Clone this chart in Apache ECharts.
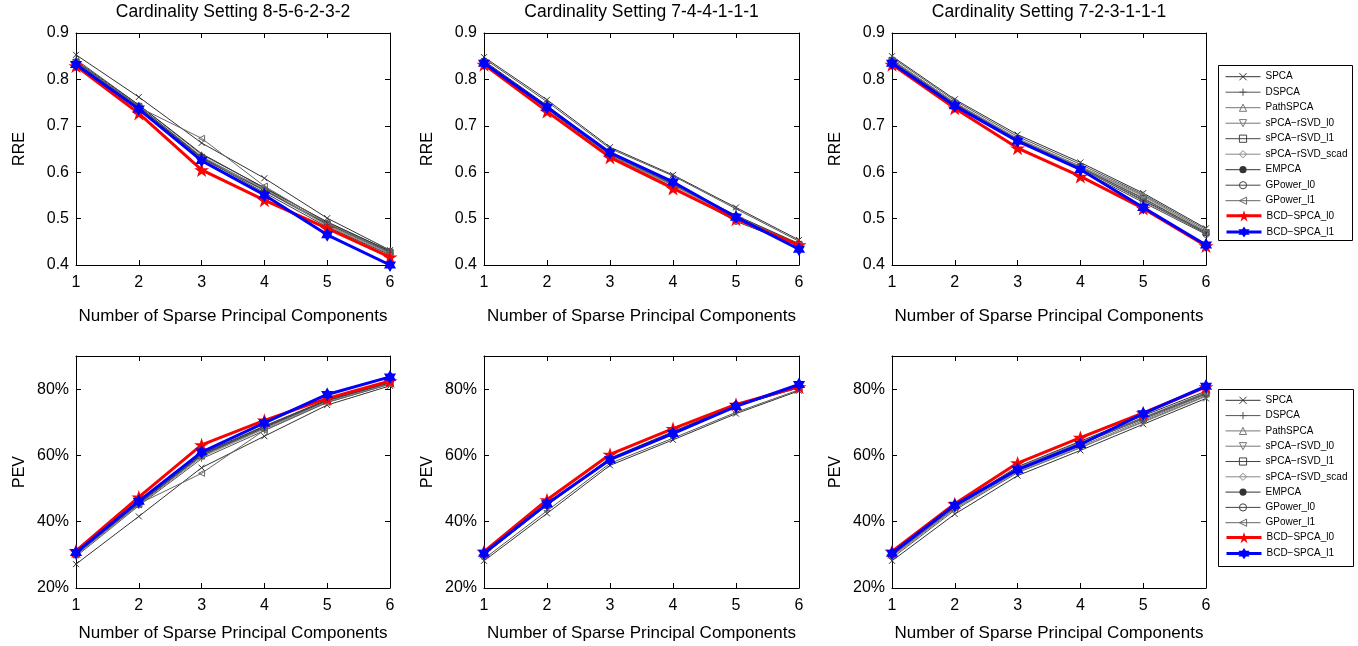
<!DOCTYPE html>
<html>
<head>
<meta charset="utf-8">
<script src="https://cdn.jsdelivr.net/npm/echarts@6/dist/echarts.min.js"></script>
<style>
html, body { margin: 0; padding: 0; background: #fff; }
#main { width: 1358px; height: 646px; }
</style>
</head>
<body>
<div id="main"></div>
<script>
// x positions (number of sparse PCs)
var xs = [1, 2, 3, 4, 5, 6];
var methods = ['SPCA', 'DSPCA', 'PathSPCA', 'sPCA\u2212rSVD_l0', 'sPCA\u2212rSVD_l1', 'sPCA\u2212rSVD_scad',
  'EMPCA', 'GPower_l0', 'GPower_l1', 'BCD\u2212SPCA_l0', 'BCD\u2212SPCA_l1'];
var titles = ['Cardinality Setting 8-5-6-2-3-2', 'Cardinality Setting 7-4-4-1-1-1', 'Cardinality Setting 7-2-3-1-1-1'];

// RRE, one row per method (same order as methods)
var rre1 = [
  [0.853, 0.762, 0.663, 0.587, 0.501, 0.432],
  [0.843, 0.745, 0.638, 0.567, 0.492, 0.430],
  [0.838, 0.742, 0.634, 0.563, 0.489, 0.431],
  [0.836, 0.740, 0.630, 0.560, 0.486, 0.426],
  [0.837, 0.742, 0.632, 0.561, 0.488, 0.428],
  [0.835, 0.739, 0.628, 0.566, 0.484, 0.424],
  [0.840, 0.745, 0.640, 0.566, 0.493, 0.430],
  [0.834, 0.739, 0.631, 0.556, 0.482, 0.422],
  [0.839, 0.740, 0.673, 0.570, 0.490, 0.426],
  [0.829, 0.727, 0.605, 0.540, 0.479, 0.417],
  [0.832, 0.736, 0.625, 0.551, 0.465, 0.400]
];
var rre2 = [
  [0.848, 0.756, 0.654, 0.594, 0.524, 0.454],
  [0.845, 0.752, 0.651, 0.592, 0.521, 0.451],
  [0.838, 0.742, 0.640, 0.575, 0.505, 0.445],
  [0.836, 0.740, 0.637, 0.572, 0.503, 0.443],
  [0.837, 0.741, 0.638, 0.574, 0.504, 0.444],
  [0.835, 0.739, 0.636, 0.571, 0.502, 0.442],
  [0.840, 0.744, 0.641, 0.577, 0.507, 0.446],
  [0.834, 0.737, 0.634, 0.568, 0.494, 0.441],
  [0.837, 0.741, 0.638, 0.573, 0.505, 0.444],
  [0.832, 0.731, 0.632, 0.565, 0.499, 0.443],
  [0.835, 0.740, 0.642, 0.579, 0.503, 0.434]
];
var rre3 = [
  [0.850, 0.757, 0.681, 0.621, 0.555, 0.479],
  [0.847, 0.754, 0.677, 0.617, 0.552, 0.476],
  [0.843, 0.750, 0.673, 0.613, 0.550, 0.472],
  [0.840, 0.748, 0.670, 0.610, 0.545, 0.470],
  [0.841, 0.749, 0.671, 0.611, 0.543, 0.470],
  [0.842, 0.750, 0.672, 0.612, 0.548, 0.473],
  [0.839, 0.747, 0.668, 0.608, 0.540, 0.468],
  [0.838, 0.746, 0.666, 0.605, 0.535, 0.466],
  [0.840, 0.748, 0.669, 0.609, 0.538, 0.469],
  [0.832, 0.738, 0.652, 0.591, 0.522, 0.441],
  [0.835, 0.743, 0.667, 0.606, 0.524, 0.443]
];
// PEV in percent
var pev1 = [
  [27.2, 41.6, 56.3, 65.8, 75.2, 81.0],
  [29.5, 44.8, 59.0, 67.5, 76.0, 81.5],
  [30.0, 45.2, 59.8, 68.2, 76.4, 81.8],
  [30.2, 45.5, 60.2, 68.6, 76.6, 82.0],
  [30.1, 45.3, 60.0, 68.4, 76.5, 81.9],
  [29.8, 45.0, 59.5, 68.0, 76.2, 81.6],
  [30.4, 45.8, 60.5, 68.9, 76.8, 82.1],
  [30.3, 45.6, 60.3, 68.7, 76.7, 82.0],
  [30.2, 45.4, 54.6, 67.6, 76.0, 81.5],
  [31.2, 47.4, 63.2, 70.6, 77.2, 82.5],
  [30.7, 46.2, 61.0, 69.8, 78.4, 83.7]
];
var pev2 = [
  [28.2, 42.5, 57.0, 64.7, 72.6, 79.5],
  [28.8, 43.3, 57.6, 65.2, 73.0, 79.8],
  [30.0, 45.0, 58.8, 66.7, 74.8, 80.5],
  [30.2, 45.2, 59.0, 67.0, 75.0, 80.6],
  [30.1, 45.0, 58.9, 66.9, 74.9, 80.5],
  [30.0, 44.9, 58.7, 66.8, 75.1, 80.4],
  [30.3, 45.3, 59.2, 67.2, 75.2, 80.7],
  [30.2, 45.1, 59.0, 67.0, 75.4, 80.6],
  [30.1, 45.0, 58.8, 66.8, 75.0, 80.5],
  [31.0, 46.6, 60.3, 68.1, 75.4, 80.7],
  [30.5, 45.4, 58.7, 66.6, 74.8, 81.4]
];
var pev3 = [
  [28.2, 42.3, 53.9, 61.5, 69.4, 77.2],
  [29.0, 43.5, 54.8, 62.3, 70.2, 78.0],
  [30.0, 44.6, 56.3, 64.0, 71.5, 79.0],
  [29.6, 44.0, 55.3, 62.8, 70.6, 78.4],
  [29.8, 44.3, 55.8, 63.4, 71.0, 78.6],
  [29.4, 43.8, 55.0, 62.5, 70.0, 77.8],
  [30.1, 44.8, 56.6, 64.3, 72.0, 79.4],
  [30.0, 44.5, 56.0, 63.7, 71.3, 78.8],
  [29.9, 44.4, 55.9, 63.6, 71.2, 78.7],
  [31.0, 45.4, 57.7, 65.4, 72.8, 80.7],
  [30.5, 45.0, 55.7, 63.3, 72.6, 80.9]
];

var FONT = 'Liberation Sans, Arial, Helvetica, sans-serif';
var grays = ['#333', '#555', '#777', '#777', '#444', '#888', '#333', '#444', '#666'];
var marks = [
  'path://M0 0L10 10M10 0L0 10',          // x
  'path://M5 0V10M0 5H10',                // +
  'path://M5 0L10 9L0 9Z',                // triangle up
  'path://M0 0L10 0L5 9Z',                // triangle down
  'path://M0 0H10V10H0Z',                 // square
  'path://M5 0L10 5L5 10L0 5Z',           // diamond
  'circle',                               // point
  'path://M5 0A5 5 0 1 1 4.99 0Z',        // circle
  'path://M0 5L9 0L9 10Z'                 // triangle left
];
var pentagram = 'path://M100 0L122.45 69.1L195.1 69.1L136.3 111.8L158.8 180.9L100 138.2L41.2 180.9L63.7 111.8L4.9 69.1L77.55 69.1Z';
var hexagram = 'path://M100 0L128.87 50L186.6 50L157.7 100L186.6 150L128.87 150L100 200L71.13 150L13.4 150L42.3 100L13.4 50L71.13 50Z';

var lefts = [76, 484, 892];
var widths = [314, 315, 314];
var tops = [33, 356];
var panels = [rre1, rre2, rre3, pev1, pev2, pev3];

var grid = [], xAxis = [], yAxis = [], series = [];
panels.forEach(function (panel, g) {
  var row = g < 3 ? 0 : 1;
  var col = g % 3;
  grid.push({ left: lefts[col], top: tops[row], width: widths[col], height: 232 });
  var tick = { show: true, inside: true, length: 5, lineStyle: { color: '#000' } };
  var line = { show: true, onZero: false, lineStyle: { color: '#000', width: 1 } };
  xAxis.push({
    gridIndex: g, type: 'value', min: 1, max: 6, interval: 1, position: 'bottom',
    axisLine: line, axisTick: tick, splitLine: { show: false },
    axisLabel: { color: '#000', fontSize: 16, fontFamily: FONT, margin: 10 },
    name: 'Number of Sparse Principal Components', nameLocation: 'middle', nameGap: row === 0 ? 43 : 37,
    nameTextStyle: { color: '#000', fontSize: 17, fontFamily: FONT }
  });
  xAxis.push({
    gridIndex: g, type: 'value', min: 1, max: 6, interval: 1, position: 'top',
    axisLine: line, axisTick: tick, splitLine: { show: false }, axisLabel: { show: false }
  });
  var yBase = row === 0
    ? { min: 0.4, max: 0.9, interval: 0.1 }
    : { min: 20, max: 90, interval: 20 };
  yAxis.push(Object.assign({
    gridIndex: g, type: 'value', position: 'left',
    axisLine: line, axisTick: tick, splitLine: { show: false },
    axisLabel: {
      color: '#000', fontSize: 16, fontFamily: FONT, margin: 7, showMaxLabel: row === 0,
      formatter: row === 0 ? function (v) { return v.toFixed(1); } : function (v) { return v + '%'; }
    },
    name: row === 0 ? 'RRE' : 'PEV', nameLocation: 'middle', nameGap: 48,
    nameTextStyle: { color: '#000', fontSize: 16, fontFamily: FONT }
  }, yBase));
  yAxis.push(Object.assign({
    gridIndex: g, type: 'value', position: 'right',
    axisLine: line, axisTick: tick, splitLine: { show: false }, axisLabel: { show: false }
  }, yBase));

  methods.forEach(function (name, k) {
    var s = {
      type: 'line', name: name,
      xAxisIndex: 2 * g, yAxisIndex: 2 * g,
      data: panel[k].map(function (v, j) { return [xs[j], v]; })
    };
    if (k < 9) {
      s.symbol = marks[k];
      s.symbolSize = k === 6 ? 2.5 : 6;
      s.lineStyle = { color: grays[k], width: 1 };
      s.itemStyle = k === 6
        ? { color: grays[k] }
        : { color: 'rgba(0,0,0,0)', borderColor: grays[k], borderWidth: 1 };
      s.z = 2;
    } else if (k === 9) {
      s.symbol = pentagram; s.symbolSize = 15; s.symbolKeepAspect = true;
      s.lineStyle = { color: '#ff0000', width: 3 };
      s.itemStyle = { color: '#ff0000' };
      s.z = 3;
    } else {
      s.symbol = hexagram; s.symbolSize = 14; s.symbolKeepAspect = true;
      s.lineStyle = { color: '#0000ff', width: 3 };
      s.itemStyle = { color: '#0000ff' };
      s.z = 4;
    }
    series.push(s);
  });
});

// legends: thin gray entries and thick coloured entries, framed by a rect
function grayLegend(top, gap) {
  return {
    orient: 'vertical', left: 1225, top: top, data: methods.slice(0, 9), selectedMode: false,
    padding: 0, itemWidth: 35, itemHeight: 9, itemGap: gap,
    lineStyle: { width: 1 }, itemStyle: { borderWidth: 1 },
    textStyle: { color: '#000', fontSize: 10, lineHeight: 9, fontFamily: FONT }
  };
}
function colorLegend(top, gap) {
  return {
    orient: 'vertical', left: 1225, top: top, data: methods.slice(9), selectedMode: false,
    padding: 0, itemWidth: 35, itemHeight: 14, itemGap: gap,
    lineStyle: { width: 3 },
    textStyle: { color: '#000', fontSize: 10, lineHeight: 9, fontFamily: FONT }
  };
}

var chart = echarts.init(document.getElementById('main'));
chart.setOption({
  animation: false,
  backgroundColor: '#fff',
  title: titles.map(function (t, i) {
    return {
      text: t, left: lefts[i] + widths[i] / 2, top: 3, padding: 0, textAlign: 'center',
      textStyle: { color: '#000', fontSize: 17.5, fontWeight: 'normal', fontFamily: FONT }
    };
  }),
  legend: [
    grayLegend(71.7, 5.5),
    colorLegend(210.2, 5),
    grayLegend(395.3, 5.3),
    colorLegend(532, 4.8)
  ],
  graphic: [
    { type: 'rect', shape: { x: 1218.5, y: 65.5, width: 134, height: 175 }, style: { fill: 'none', stroke: '#000', lineWidth: 1 } },
    { type: 'rect', shape: { x: 1218.5, y: 389.5, width: 135, height: 177 }, style: { fill: 'none', stroke: '#000', lineWidth: 1 } }
  ],
  grid: grid,
  xAxis: xAxis,
  yAxis: yAxis,
  series: series
});
</script>
</body>
</html>
